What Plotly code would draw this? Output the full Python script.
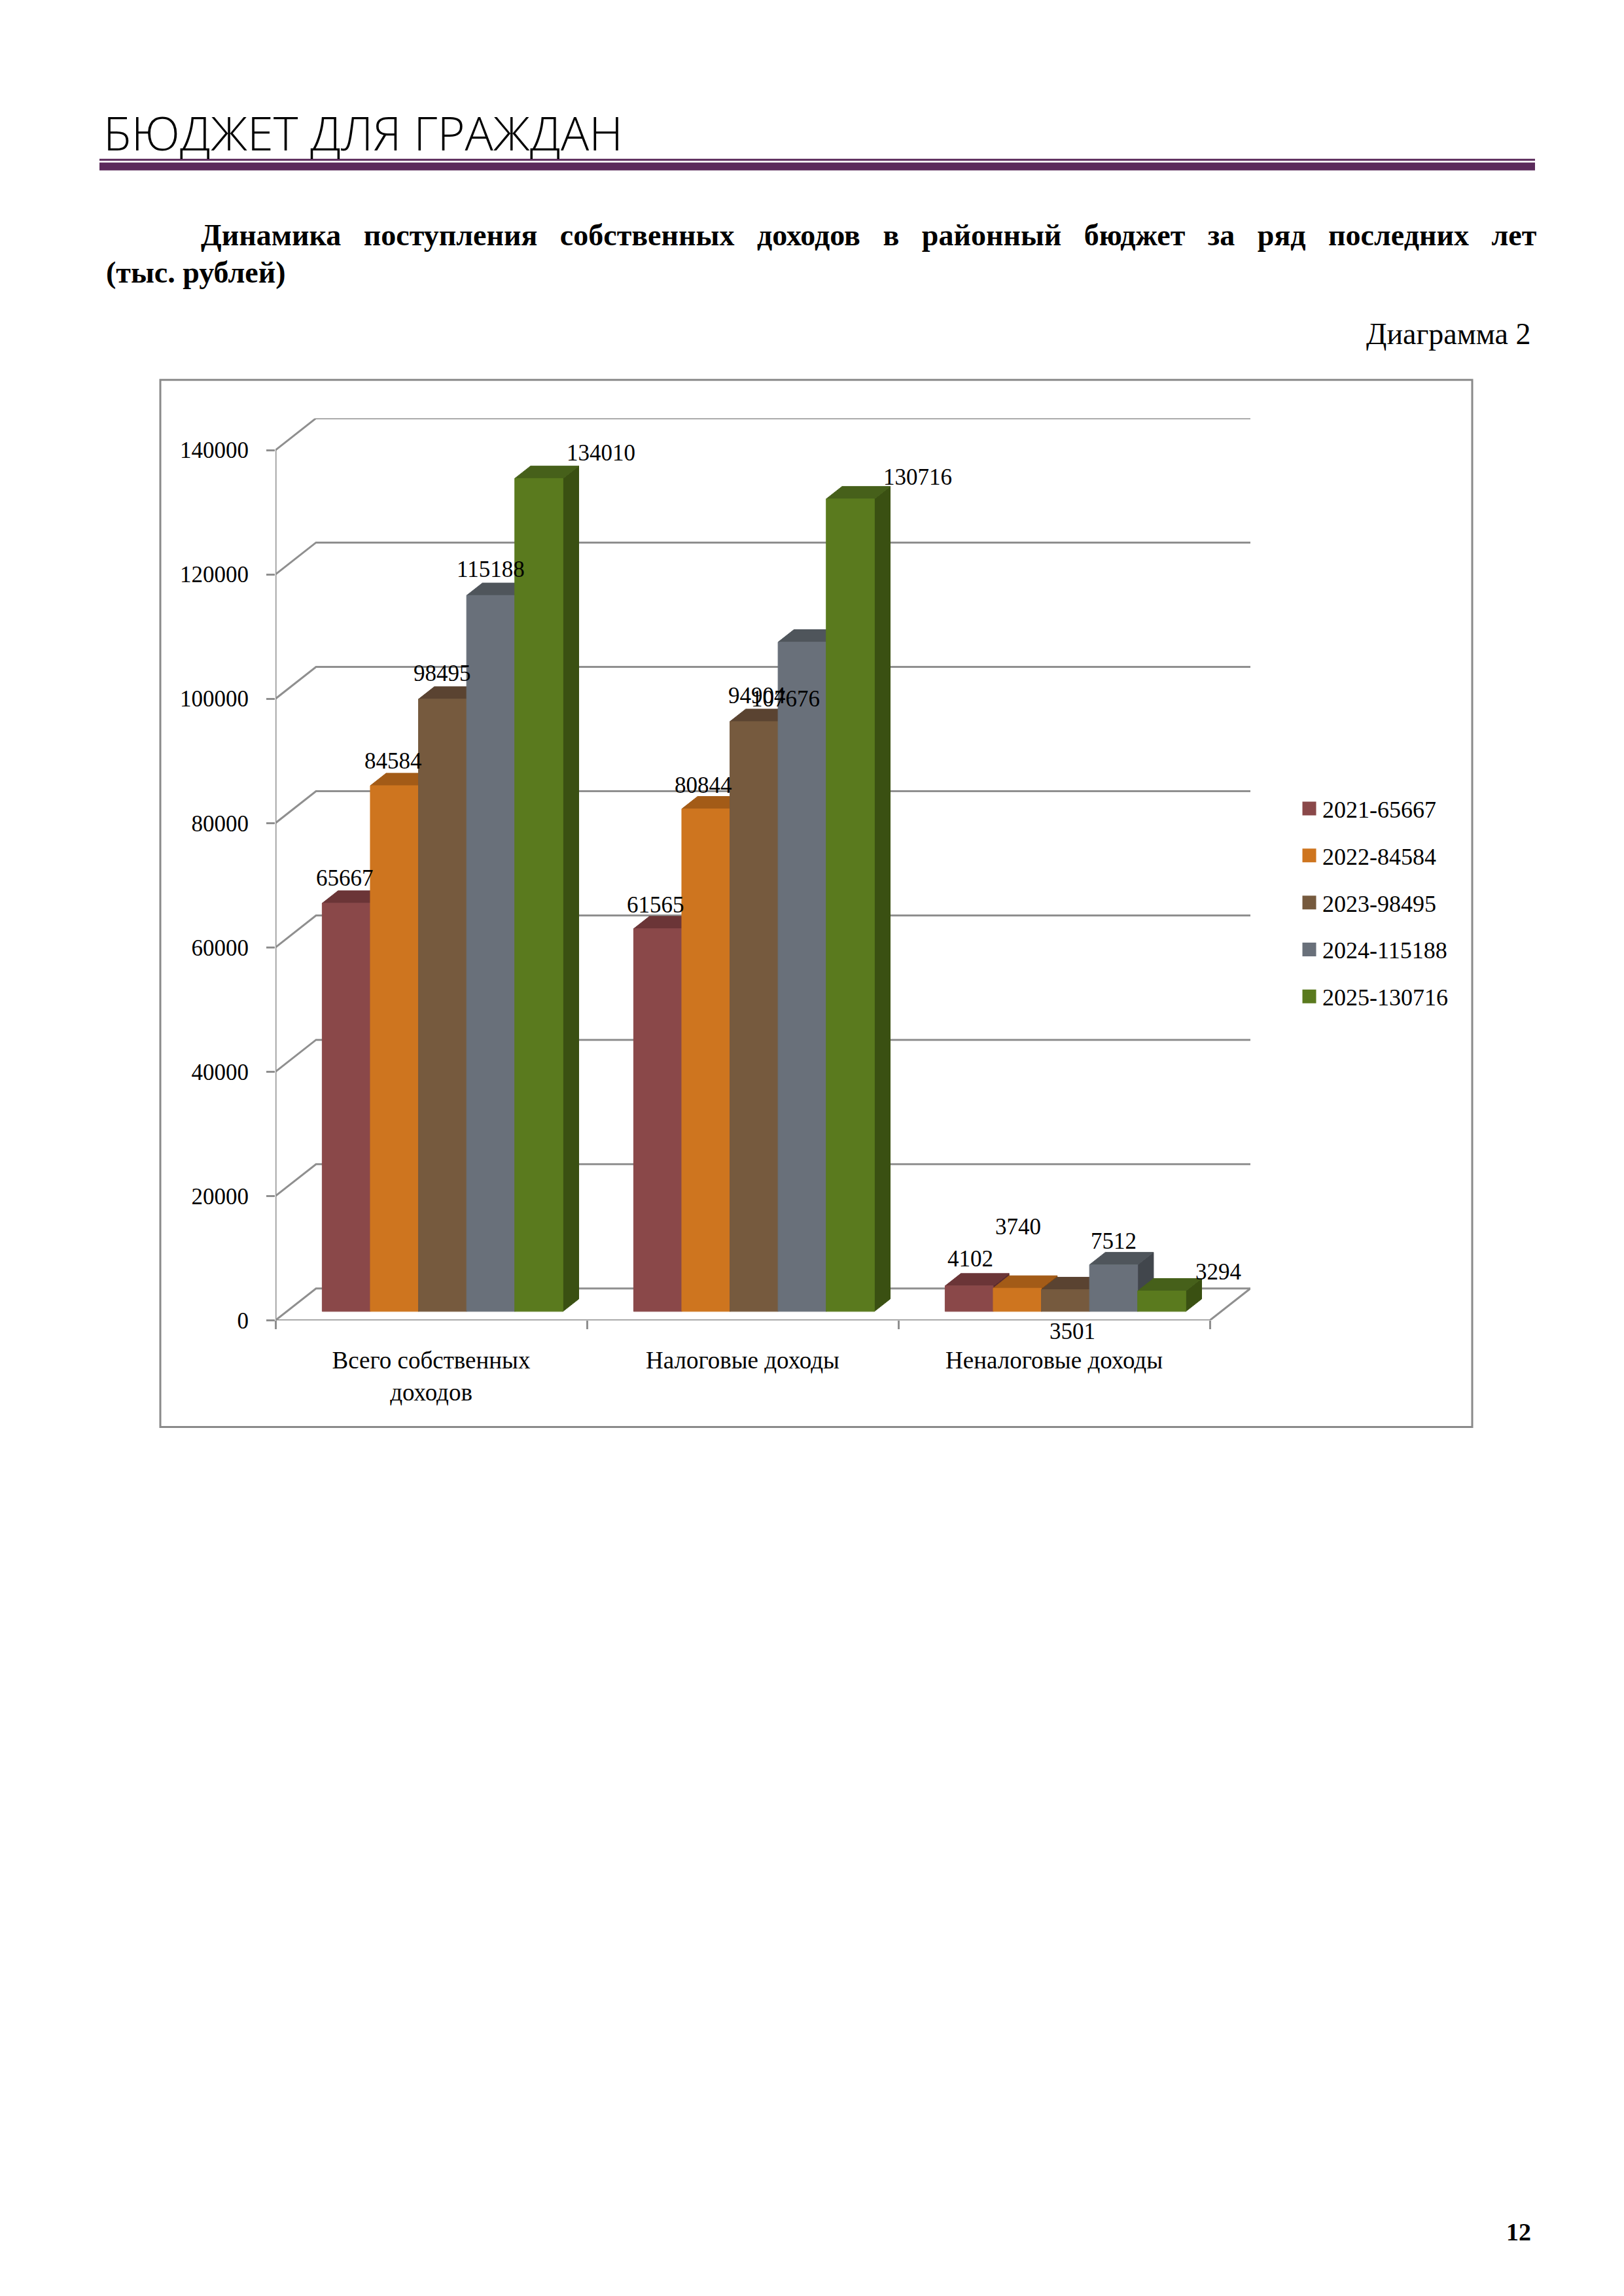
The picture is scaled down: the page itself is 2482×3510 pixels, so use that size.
import plotly.graph_objects as go

# ---- data ----
categories = ["Всего собственных<br>доходов", "Налоговые доходы", "Неналоговые доходы"]
legend_labels = ["2021-65667", "2022-84584", "2023-98495", "2024-115188", "2025-130716"]
vals_2021 = [65667, 61565, 4102]
vals_2022 = [84584, 80844, 3740]
vals_2023 = [98495, 94904, 3501]
vals_2024 = [115188, 107676, 7512]
vals_2025 = [134010, 130716, 3294]
y_ticks = [0, 20000, 40000, 60000, 80000, 100000, 120000, 140000]

series = [vals_2021, vals_2022, vals_2023, vals_2024, vals_2025]

# ---- styling ----
front_cols = ["#8a4849", "#ce751f", "#765a3e", "#69707a", "#5a7a1e"]
top_cols = ["#6b3537", "#a35b17", "#5a4331", "#4f555b", "#46601a"]
side_cols = ["#5a2b2d", "#86490f", "#4a3627", "#41464c", "#3a5012"]
grid_col = "#8f8f8f"
SERIF = "Liberation Serif"

# label shifts in px (right, up) relative to the top of each bar
label_shift = [
    [(-2, 19), (-3, 17), (2, 22)],
    [(-2, 19), (-4, 17), (1, 75)],
    [(0, 20), (5, 20), (11, -83)],
    [(0, 21), (-25, -106), (0, 17)],
    [(95, 20), (103, 14), (86, 10)],
]

# ---- page geometry (px) ----
W, H = 2482, 3510
AX_LEFT, AX_BOTTOM = 413, 2022
CAT_PX = 476
Y_TOP_PX = 684
DEPTH_PX = (62, 49)
YMAX = y_ticks[-1]
n_cat = len(categories)

py = (AX_BOTTOM - Y_TOP_PX) / YMAX
DX = DEPTH_PX[0] / CAT_PX
DY = DEPTH_PX[1] / py

BAR_W = 0.1546
FRONT_F = 0.28
BAR_D = 0.39
fx, fy = FRONT_F * DX, FRONT_F * DY
bx, by = BAR_D * DX, BAR_D * DY

fig = go.Figure()

# back wall grid + side wall diagonals
gx, gy = [], []
for v in y_ticks:
    gx += [0, DX, n_cat + DX, None]
    gy += [v, v + DY, v + DY, None]
fig.add_trace(go.Scatter(x=gx, y=gy, mode="lines", line=dict(color=grid_col, width=3),
                         hoverinfo="skip", showlegend=False))

# front axis + floor edge
fig.add_trace(go.Scatter(x=[0, 0, None, 0, n_cat, n_cat + DX],
                         y=[YMAX, 0, None, 0, 0, DY],
                         mode="lines", line=dict(color=grid_col, width=3),
                         hoverinfo="skip", showlegend=False))

def face(xs, ys, col):
    fig.add_trace(go.Scatter(x=xs, y=ys, fill="toself", fillcolor=col, mode="lines",
                             line=dict(color=col, width=1), hoverinfo="skip",
                             showlegend=False))

annotations = []
group_w = BAR_W * len(series)
for k in range(n_cat):
    for i, vals in enumerate(series):
        v = vals[k]
        x0 = k + 0.5 - group_w / 2 + i * BAR_W + fx
        x1 = x0 + BAR_W
        face([x1, x1 + bx, x1 + bx, x1, x1], [fy, fy + by, v + fy + by, v + fy, fy], side_cols[i])
        face([x0, x1, x1 + bx, x0 + bx, x0], [v + fy, v + fy, v + fy + by, v + fy + by, v + fy], top_cols[i])
        face([x0, x1, x1, x0, x0], [fy, fy, v + fy, v + fy, fy], front_cols[i])
        sx, sy = label_shift[i][k]
        annotations.append(dict(x=(x0 + x1) / 2, y=v + fy + by, xref="x", yref="y",
                                text=str(v), showarrow=False, xshift=sx, yshift=sy,
                                xanchor="center", yanchor="middle",
                                font=dict(family=SERIF, size=35, color="black")))

# legend entries
for i, lab in enumerate(legend_labels):
    fig.add_trace(go.Scatter(x=[None], y=[None], mode="markers", name=lab, legendgroup=lab,
                             marker=dict(symbol="square", size=23, color=front_cols[i],
                                         line=dict(color=front_cols[i], width=5))))

# page header texts
gap = "  \u00a0"
subtitle = gap.join("Динамика поступления собственных доходов в районный бюджет за ряд последних лет".split(" "))
annotations += [
    dict(x=148 / W, y=1 - 195 / H, xref="paper", yref="paper", xanchor="left", yanchor="middle",
         text="БЮДЖЕТ ДЛЯ ГРАЖДАН", showarrow=False,
         font=dict(family="Open Sans", size=72, color="black", weight=300)),
    dict(x=297 / W, y=1 - 354 / H, xref="paper", yref="paper", xanchor="left", yanchor="middle",
         text="<b>" + subtitle + "</b>",
         showarrow=False, font=dict(family=SERIF, size=46, color="black")),
    dict(x=152 / W, y=1 - 411 / H, xref="paper", yref="paper", xanchor="left", yanchor="middle",
         text="<b>(тыс. рублей)</b>", showarrow=False,
         font=dict(family=SERIF, size=46, color="black")),
    dict(x=2334 / W, y=1 - 505 / H, xref="paper", yref="paper", xanchor="right", yanchor="middle",
         text="Диаграмма 2", showarrow=False,
         font=dict(family=SERIF, size=46, color="black")),
    dict(x=2313 / W, y=1 - 3424 / H, xref="paper", yref="paper", xanchor="center", yanchor="middle",
         text="<b>12</b>", showarrow=False,
         font=dict(family=SERIF, size=38, color="black")),
]

shapes = [
    dict(type="rect", xref="paper", yref="paper", x0=144 / W, x1=2338 / W,
         y0=1 - 239 / H, y1=1 - 236 / H, fillcolor="#5b2a5b", line=dict(width=0)),
    dict(type="rect", xref="paper", yref="paper", x0=144 / W, x1=2338 / W,
         y0=1 - 254 / H, y1=1 - 242 / H, fillcolor="#5b2a5b", line=dict(width=0)),
    dict(type="rect", xref="paper", yref="paper", x0=237 / W, x1=2242 / W,
         y0=1 - 2186 / H, y1=1 - 576 / H, fillcolor="rgba(0,0,0,0)",
         line=dict(color="#8a8a8a", width=3)),
]

fig.update_layout(
    width=W, height=H,
    margin=dict(l=0, r=0, t=0, b=0),
    paper_bgcolor="white", plot_bgcolor="white",
    annotations=annotations, shapes=shapes,
    showlegend=True,
    legend=dict(x=1973 / W, y=1 - 1205 / H, xanchor="left", yanchor="top",
                font=dict(family=SERIF, size=36, color="black"),
                tracegroupgap=22, itemsizing="trace", bgcolor="rgba(0,0,0,0)"),
    xaxis=dict(range=[0, n_cat + DX], domain=[AX_LEFT / W, (AX_LEFT + n_cat * CAT_PX + DEPTH_PX[0]) / W],
               tickvals=[k + 0.5 for k in range(n_cat)], ticktext=categories, ticks="",
               showgrid=False, zeroline=False, showline=False, ticklabelstandoff=36,
               tickfont=dict(family=SERIF, size=37, color="black"),
               minor=dict(tickmode="array", tickvals=list(range(n_cat + 1)), ticks="outside",
                          ticklen=13, tickwidth=3, tickcolor=grid_col, showgrid=False)),
    yaxis=dict(range=[0, YMAX + DY], domain=[1 - AX_BOTTOM / H, 1 - (Y_TOP_PX - DEPTH_PX[1]) / H],
               tickvals=y_ticks, tickformat="d", ticks="outside", ticklen=13, tickwidth=3,
               tickcolor=grid_col, showgrid=False, zeroline=False, showline=False,
               ticklabelstandoff=20, tickfont=dict(family=SERIF, size=35, color="black")),
)

fig.write_html("out.html")
